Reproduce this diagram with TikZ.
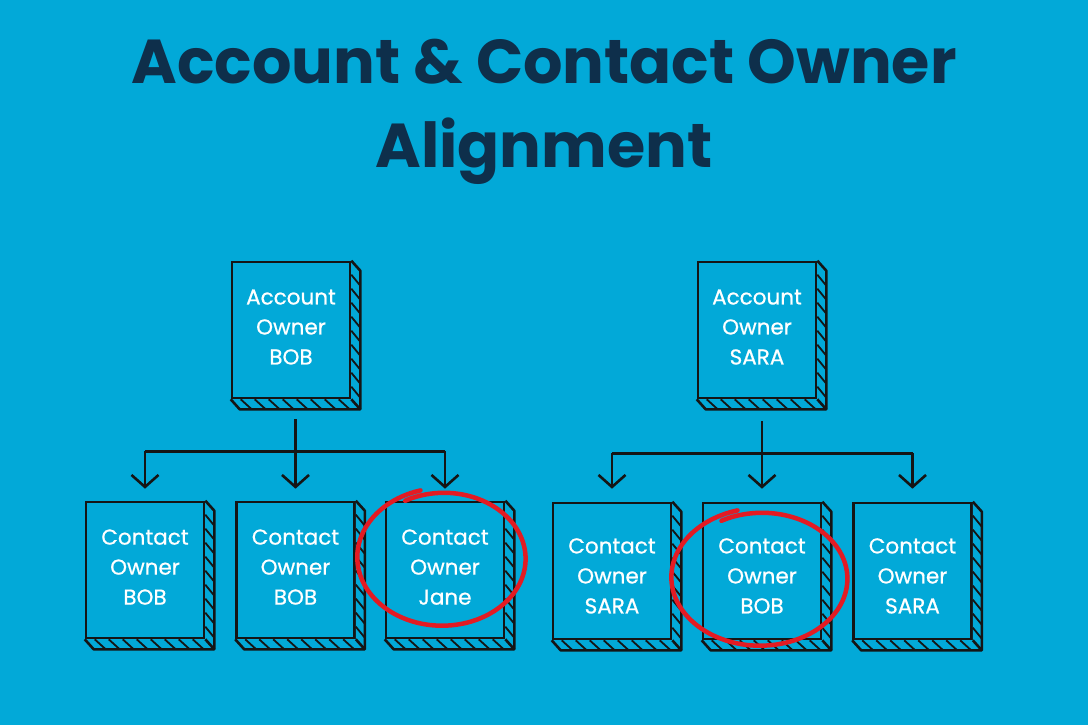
\documentclass[tikz,border=0pt]{standalone}
\usepackage{fontspec}
\setmainfont{Poppins}
\newfontfamily\slabfont{Poppins}[FakeBold=0.7]
\usetikzlibrary{arrows.meta,calc}
\definecolor{skyback}{HTML}{02A9D8}
\definecolor{titlenavy}{HTML}{0E2F4B}
\definecolor{inkline}{HTML}{151515}
\definecolor{markred}{HTML}{E31B23}

\tikzset{
  slab/.style={draw=inkline, line width=2.6pt, fill=skyback, minimum width=118pt,
    minimum height=136pt, inner sep=0pt, align=center, text=white,
    font=\slabfont\fontsize{21.5}{30}\selectfont},
  hatch/.style={draw=inkline, line width=1.8pt},
  arrowline/.style={draw=inkline, line width=2.6pt},
  tipline/.style={arrowline, -{Straight Barb[length=12pt,width=27pt,line width=2.6pt]}},
  redmark/.style={draw=markred, line width=4.5pt, line cap=round}
}

% side and bottom faces of a slab node
\newcommand{\slabdepth}[1]{
  \fill[skyback] (#1.north east) -- ++(9,10) -- ($(#1.south east)+(9,10)$)
    -- ($(#1.south west)+(9,10)$) -- (#1.south west) -- (#1.south east) -- cycle;
  \foreach \k in {1,...,8}
    \draw[hatch] ($(#1.south west)+(\k*14-4,0)$) -- ++(11,10);
  \foreach \k in {1,...,9}
    \draw[hatch] ($(#1.north east)+(0,\k*14)$) -- ++(9,11);
  \draw[arrowline, line join=round] (#1.north east) -- ++(9,10) -- ($(#1.south east)+(9,10)$)
    -- ($(#1.south west)+(9,10)$) -- (#1.south west);
  \draw[arrowline] (#1.south east) -- ++(9,10);
}

% hand drawn ring
\newcommand{\ring}[4]{
  \draw[redmark] plot[smooth, samples=80, domain=105:478]
    ({#1 + #3*(1-0.0002*(\x-105))*cos(\x)}, {#2 - #4*(1-0.0002*(\x-105))*sin(\x)});
}

\begin{document}
\begin{tikzpicture}[x=1pt,y=-1pt]
\fill[skyback] (0,0) rectangle (1088,725);
\useasboundingbox (0,0) rectangle (1088,725);

\node[font=\fontsize{62}{84}\bfseries\selectfont, text=titlenavy, align=center] (title)
  at (544,112) {Account \& Contact Owner\\Alignment};

% account owners
\node[slab] (acctbob) at (291,330) {Account\\Owner\\BOB\\[-24pt]\mbox{}};
\node[slab] (acctsara) at (757,330) {Account\\Owner\\SARA\\[-24pt]\mbox{}};

% contact owners
\node[slab] (cbob1) at (145,570) {Contact\\Owner\\BOB\\[-24pt]\mbox{}};
\node[slab] (cbob2) at (295.5,570) {Contact\\Owner\\BOB\\[-24pt]\mbox{}};
\node[slab] (cjane) at (445,570) {Contact\\Owner\\Jane\\[-24pt]\mbox{}};
\node[slab] (csara1) at (612,571) {\mbox{}\\[-5pt]Contact\\Owner\\SARA};
\node[slab] (cbob3) at (762,571) {\mbox{}\\[-5pt]Contact\\Owner\\BOB};
\node[slab] (csara2) at (912.5,571) {\mbox{}\\[-5pt]Contact\\Owner\\SARA};

\foreach \n in {acctbob,acctsara,cbob1,cbob2,cjane,csara1,cbob3,csara2}
  \slabdepth{\n};

% connectors
\coordinate (bobsplit) at ($(acctbob.south)+(0,52)$);
\coordinate (sarasplit) at ($(acctsara.south)+(0,54)$);
\draw[arrowline] (bobsplit -| cbob1) -- (bobsplit -| cjane);
\draw[tipline] ([yshift=-20pt]acctbob.south -| cbob2) -- ([yshift=12pt]cbob2.north);
\draw[tipline] (bobsplit -| cbob1) -- ([yshift=12pt]cbob1.north);
\draw[tipline] (bobsplit -| cjane) -- ([yshift=12pt]cjane.north);
\draw[arrowline] (sarasplit -| csara1) -- (sarasplit -| csara2);
\draw[tipline] ([yshift=-22pt]acctsara.south -| cbob3) -- ([yshift=13pt]cbob3.north);
\draw[tipline] (sarasplit -| csara1) -- ([yshift=13pt]csara1.north);
\draw[tipline] (sarasplit -| csara2) -- ([yshift=13pt]csara2.north);

% red rings
\ring{443}{558}{87}{70}
\ring{761}{578}{91}{70}
\end{tikzpicture}
\end{document}
